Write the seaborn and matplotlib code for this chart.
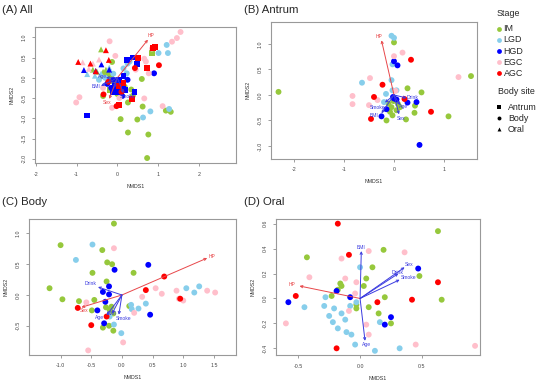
import matplotlib
matplotlib.use("Agg")
import pandas as pd
import matplotlib.pyplot as plt
import seaborn as sns

sns.set_style("white")
plt.rcParams["font.family"] = ["Liberation Sans", "DejaVu Sans"]

# stage colours
STAGES = ["IM", "LGD", "HGD", "EGC", "AGC"]
COLORS = ["#96C83C", "#87CEEB", "#0000FF", "#FFBFCB", "#FF0000"]
SITES = ["Antrum", "Body", "Oral"]
SITE_MARKERS = {"Antrum": "s", "Body": "o", "Oral": "^"}
S, B, O = "Antrum", "Body", "Oral"

# ---- (A) All : (x, y, site) per stage
A_IM = [(-0.40, 0.70, O), (-0.13, 0.39, B), (0.84, 0.61, S), (0.60, -0.03, B), (0.34, -0.29, B),
        (0.38, -0.44, B), (0.26, -0.61, B), (0.62, -0.71, B), (1.19, -0.81, B), (1.31, -0.84, B),
        (0.49, -1.03, B), (0.08, -1.02, B), (0.26, -1.35, B), (0.76, -1.40, B), (0.73, -1.98, B),
        (-0.35, 0.15, O), (-0.30, 0.10, O), (-0.25, 0.12, B), (-0.20, 0.05, B), (-0.15, 0.00, B),
        (-0.40, 0.05, O), (-0.28, 0.20, O), (-0.10, -0.10, B), (-0.05, -0.25, B), (0.05, -0.15, B),
        (-0.18, -0.30, S), (0.10, -0.35, B), (-0.50, 0.15, O), (0.00, -0.40, B), (-0.35, -0.45, B),
        (-0.60, 0.20, O), (-0.22, -0.05, B), (0.18, -0.22, B)]
A_LGD = [(1.21, 0.81, B), (1.01, 0.61, B), (1.24, 0.61, B), (0.81, -0.83, B), (1.27, -0.77, B),
         (0.63, -0.98, B), (-0.74, 0.09, O), (0.23, 0.11, B), (0.15, 0.23, B), (-0.40, 0.10, O),
         (-0.30, 0.00, B), (-0.45, -0.05, B), (-0.20, 0.25, O), (0.25, 0.35, B), (0.30, 0.40, B),
         (-0.55, 0.05, O), (-0.10, 0.10, B), (0.50, 0.45, B)]
A_HGD = [(-0.75, -0.93, S), (-0.82, 0.19, O), (-0.39, 0.33, O), (-0.53, 0.17, O), (-0.20, 0.20, O),
         (0.39, 0.50, S), (0.48, 0.35, S), (0.23, 0.44, S), (0.90, 0.11, B), (0.42, -0.36, S),
         (0.05, -0.05, S), (0.15, -0.15, S), (-0.05, -0.20, S), (0.10, -0.25, S), (-0.15, -0.25, B),
         (0.20, -0.30, S), (0.00, -0.35, S), (-0.10, -0.05, B), (0.15, 0.05, S), (-0.25, -0.15, B),
         (0.12, -0.45, B), (-0.12, -0.35, S), (0.25, -0.05, B)]
A_EGC = [(1.55, 1.13, B), (1.46, 0.98, B), (1.34, 0.89, B), (0.77, 0.11, B), (0.66, 0.47, B),
         (0.70, 0.40, B), (0.66, -0.51, B), (1.11, -0.70, B), (-0.13, -0.74, B), (-1.01, -0.61, B),
         (-0.93, -0.48, B), (-0.19, 0.90, B), (-0.05, 0.54, B), (-0.85, 0.38, O), (-0.70, 0.22, O),
         (-0.45, 0.45, O), (0.85, 0.72, B), (0.05, -0.50, B), (-0.35, -0.25, B), (0.45, 0.20, B),
         (-0.60, 0.35, O)]
A_AGC = [(0.92, 0.75, S), (0.88, 0.74, S), (0.50, 0.48, S), (0.73, 0.24, S), (1.02, 0.31, B),
         (0.43, 0.24, B), (0.35, -0.53, S), (-0.96, 0.39, O), (-0.66, 0.35, O), (-0.28, 0.68, O),
         (-0.21, 0.44, O), (-0.53, 0.16, O), (0.05, -0.67, S), (-0.02, -0.70, B), (-0.34, -0.41, B),
         (-0.22, -0.10, B), (0.05, -0.20, S), (0.15, -0.12, S), (0.10, -0.35, B)]
A_ARROWS = [("HP", 0.75, 0.94, "r", 0.82, 1.04), ("Sex", -0.20, -0.52, "r", -0.24, -0.62),
            ("BMI", -0.40, -0.20, "b", -0.52, -0.22), ("Age", -0.28, 0.00, "b", -0.36, 0.03),
            ("Drink", -0.08, -0.25, "b", -0.08, -0.10), ("Smoke", 0.15, -0.38, "b", 0.24, -0.45)]

# ---- (B) Antrum : (x, y)
B_IM = [(-2.31, 0.06), (0.00, 1.03), (0.27, 0.13), (0.55, 0.05), (0.42, -0.21), (0.41, -0.35),
        (1.09, -0.42), (1.54, 0.37), (-0.15, -0.50), (0.24, -0.48), (-0.11, -0.17), (-0.05, -0.24),
        (0.05, -0.30), (-0.08, -0.33), (0.12, -0.24), (-0.01, -0.12), (0.08, -0.18), (-0.03, -0.40)]
B_LGD = [(-0.05, 1.16), (0.00, 1.12), (-0.03, 0.60), (-0.64, 0.24), (-0.05, 0.29), (-0.16, 0.02),
         (-0.03, 0.09), (0.05, 0.09), (-0.20, -0.14)]
B_HGD = [(0.00, 0.66), (0.07, 0.58), (-0.25, -0.42), (0.45, -0.14), (0.27, -0.15), (0.51, -0.98),
         (0.00, -0.07), (0.05, -0.09), (-0.02, -0.04), (-0.15, -0.28)]
B_EGC = [(0.00, 0.76), (0.17, 0.83), (-0.48, 0.33), (-0.83, -0.02), (-0.83, -0.18), (-0.33, -0.10),
         (-0.50, -0.20), (1.29, 0.35), (0.03, 0.08)]
B_AGC = [(0.34, 0.69), (-0.23, 0.20), (-0.40, -0.04), (-0.46, -0.47), (0.21, -0.08), (0.74, -0.33)]
B_ARROWS = [("HP", -0.25, 1.07, "r", -0.29, 1.14), ("Drink", 0.25, -0.06, "b", 0.37, -0.05),
            ("Smoke", -0.18, -0.15, "b", -0.33, -0.24), ("BMI", -0.25, -0.36, "b", -0.40, -0.41),
            ("Sex", 0.10, -0.38, "b", 0.15, -0.46), ("Age", 0.12, -0.20, "b", 0.19, -0.22)]

# ---- (C) Body
C_IM = [(-0.13, 1.16), (-1.00, 0.81), (-0.32, 0.73), (-0.24, 0.53), (-0.16, 0.50), (-0.48, 0.36),
        (0.19, 0.36), (-0.25, 0.22), (-1.18, 0.11), (-0.97, -0.07), (-0.70, -0.10), (-0.45, -0.08),
        (-0.49, -0.25), (-0.26, -0.20), (0.12, -0.18), (-0.21, -0.50), (-0.31, -0.53), (-0.14, -0.58),
        (-0.20, -0.24), (-0.14, -0.30), (-0.17, -0.19)]
C_LGD = [(-0.48, 0.82), (-0.75, 0.57), (1.05, 0.11), (1.26, 0.14), (1.18, 0.04), (0.39, -0.14),
         (0.27, -0.22), (0.16, -0.23), (0.15, -0.16), (-0.13, -0.48), (-0.01, -0.62), (-0.20, -0.35)]
C_HGD = [(-0.12, 0.41), (0.43, 0.49), (-0.21, 0.14), (-0.31, 0.05), (-0.21, 0.01), (-0.27, -0.11),
         (-0.40, -0.25), (0.46, -0.32), (-0.29, -0.46)]
C_EGC = [(-0.13, 0.76), (0.55, 0.11), (0.65, 0.02), (0.89, 0.07), (1.39, 0.07), (1.52, 0.04),
         (1.00, -0.09), (0.93, -0.06), (-0.58, -0.12), (0.33, -0.03), (0.20, -0.29), (0.02, -0.77),
         (-0.55, -0.90)]
C_AGC = [(0.69, 0.30), (0.39, 0.08), (0.95, -0.06), (-0.72, -0.21), (-0.50, -0.49), (-0.25, -0.35)]
C_ARROWS = [("HP", 1.39, 0.60, "r", 1.47, 0.63), ("Sex", -0.66, -0.20, "r", -0.62, -0.25),
            ("Drink", -0.39, 0.13, "b", -0.51, 0.18), ("Age", -0.25, -0.33, "b", -0.36, -0.36),
            ("Smoke", -0.05, -0.32, "b", 0.03, -0.38), ("BMI", -0.16, -0.30, "b", -0.16, -0.30)]

# ---- (D) Oral
D_IM = [(0.63, 0.54), (-0.43, 0.33), (0.19, 0.39), (0.10, 0.25), (0.05, 0.16), (-0.16, 0.12),
        (-0.15, 0.10), (-0.18, 0.07), (-0.23, 0.02), (0.03, 0.10), (0.48, 0.18), (0.20, 0.01),
        (0.66, -0.01), (-0.03, -0.05), (-0.03, -0.08), (0.07, -0.07), (0.15, -0.12), (0.25, -0.20)]
D_LGD = [(0.00, 0.25), (-0.28, 0.01), (-0.45, -0.07), (-0.29, -0.06), (-0.21, -0.08), (-0.08, -0.06),
         (-0.03, -0.03), (-0.25, -0.14), (-0.15, -0.12), (-0.12, -0.17), (-0.22, -0.19), (-0.18, -0.24),
         (-0.11, -0.27), (-0.07, -0.29), (0.16, -0.19), (-0.04, -0.37), (0.12, -0.42), (0.32, -0.40)]
D_HGD = [(0.47, 0.24), (-0.58, -0.03), (-0.19, 0.06), (-0.08, 0.01), (0.25, -0.15), (0.20, -0.21)]
D_EGC = [(0.07, 0.38), (0.36, 0.37), (-0.15, 0.32), (-0.41, 0.17), (-0.12, 0.16), (-0.03, 0.13),
         (-0.04, 0.04), (-0.09, -0.10), (-0.60, -0.20), (0.05, -0.21), (0.07, -0.29), (0.45, -0.37),
         (0.93, -0.38)]
D_AGC = [(-0.18, 0.60), (-0.09, 0.35), (0.63, 0.13), (-0.52, 0.02), (0.42, -0.01), (0.14, -0.03),
         (-0.19, -0.40)]
D_ARROWS = [("BMI", 0.01, 0.38, "b", 0.01, 0.41), ("Age", 0.04, -0.34, "b", 0.05, -0.37),
            ("HP", -0.49, 0.10, "r", -0.55, 0.11), ("Sex", 0.36, 0.25, "b", 0.40, 0.27),
            ("Drink", 0.31, 0.20, "b", 0.30, 0.21), ("Smoke", 0.32, 0.15, "b", 0.39, 0.17)]

ARROW_COL = {"r": "#E8474A", "b": "#3B3BE0"}


def to_frame(groups, with_site=False):
    rows = []
    for stage, pts in zip(STAGES, groups):
        for p in pts:
            rows.append({"x": p[0], "y": p[1], "stage": stage,
                         "site": p[2] if with_site else "Body"})
    return pd.DataFrame(rows)


def draw_panel(ax, df, arrows, xlim, ylim, xticks, yticks, xfmt, yfmt, styled=False):
    sns.scatterplot(data=df, x="x", y="y", hue="stage", hue_order=STAGES,
                    palette=COLORS, style="site" if styled else None,
                    markers=SITE_MARKERS if styled else True,
                    s=18, linewidth=0, legend=False, ax=ax, zorder=2)
    for name, tx, ty, c, lx, ly in arrows:
        ax.annotate("", xy=(tx, ty), xytext=(0, 0),
                    arrowprops=dict(arrowstyle="->", color=ARROW_COL[c], lw=0.7,
                                    shrinkA=0, shrinkB=0, mutation_scale=4), zorder=3)
        ax.text(lx, ly, name, color=ARROW_COL[c], fontsize=3.6, ha="center", va="center", zorder=4)
    ax.set_xlim(*xlim)
    ax.set_ylim(*ylim)
    ax.set_xticks(xticks)
    ax.set_yticks(yticks)
    ax.set_xticklabels([xfmt.format(v) for v in xticks])
    ax.set_yticklabels([yfmt.format(v) for v in yticks], rotation=90, va="center")
    ax.set_xlabel("NMDS1", fontsize=3.8, labelpad=5, color="#333333")
    ax.set_ylabel("NMDS2", fontsize=3.8, labelpad=5, color="#333333")
    ax.tick_params(axis="both", direction="out", length=2.2, width=0.5, color="#777777",
                   labelsize=3.8, labelcolor="#444444", pad=4, left=True, bottom=True)
    for sp in ax.spines.values():
        sp.set_color("#999999")
        sp.set_linewidth(0.8)


fig = plt.figure(figsize=(5.5, 3.86), dpi=100)

axA = fig.add_axes([35 / 550, 1 - 163.3 / 386, 201 / 550, 136.6 / 386])
axB = fig.add_axes([271 / 550, 1 - 158.7 / 386, 206 / 550, 136.7 / 386])
axC = fig.add_axes([29.3 / 550, 1 - 354.7 / 386, 206.7 / 550, 135.4 / 386])
axD = fig.add_axes([276 / 550, 1 - 355.3 / 386, 204 / 550, 136 / 386])

draw_panel(axA, to_frame([A_IM, A_LGD, A_HGD, A_EGC, A_AGC], True), A_ARROWS,
           (-2.02, 2.91), (-2.11, 1.26), [-2, -1, 0, 1, 2],
           [-2.0, -1.5, -1.0, -0.5, 0.0, 0.5, 1.0], "{:g}", "{:.1f}", styled=True)
draw_panel(axB, to_frame([B_IM, B_LGD, B_HGD, B_EGC, B_AGC]), B_ARROWS,
           (-2.46, 1.66), (-1.25, 1.43), [-2, -1, 0, 1],
           [-1.0, -0.5, 0.0, 0.5, 1.0], "{:g}", "{:.1f}")
draw_panel(axC, to_frame([C_IM, C_LGD, C_HGD, C_EGC, C_AGC]), C_ARROWS,
           (-1.51, 1.86), (-0.97, 1.23), [-1.0, -0.5, 0.0, 0.5, 1.0, 1.5],
           [-0.5, 0.0, 0.5, 1.0], "{:.1f}", "{:.1f}")
draw_panel(axD, to_frame([D_IM, D_LGD, D_HGD, D_EGC, D_AGC]), D_ARROWS,
           (-0.68, 0.97), (-0.456, 0.635), [-0.5, 0.0, 0.5],
           [-0.4, -0.2, 0.0, 0.2, 0.4, 0.6], "{:.1f}", "{:.1f}")

# panel titles
fig.text(2 / 550, 1 - 10 / 386, "(A) All", fontsize=8.2, va="center", ha="left")
fig.text(244 / 550, 1 - 10 / 386, "(B) Antrum", fontsize=8.2, va="center", ha="left")
fig.text(2 / 550, 1 - 202.3 / 386, "(C) Body", fontsize=8.2, va="center", ha="left")
fig.text(244 / 550, 1 - 202.3 / 386, "(D) Oral", fontsize=8.2, va="center", ha="left")

# manual legend on a pixel-coordinate overlay
lax = fig.add_axes([0, 0, 1, 1], zorder=-1)
lax.set_xlim(0, 550)
lax.set_ylim(386, 0)
lax.axis("off")
lax.text(497, 13, "Stage", fontsize=6.4, va="center", ha="left")
stage_y = [28.7, 39.5, 51, 62.3, 73.3]
for st, col, yy in zip(STAGES, COLORS, stage_y):
    lax.scatter([499.3], [yy], s=12, color=col, linewidth=0)
    lax.text(503.5, yy, st, fontsize=6.4, va="center", ha="left")
lax.text(497.5, 91, "Body site", fontsize=6.4, va="center", ha="left")
site_y = [107.3, 118.3, 129.3]
for site, yy in zip(SITES, site_y):
    lax.scatter([499.3], [yy], s=8, color="black", marker=SITE_MARKERS[site], linewidth=0)
    lax.text(508, yy, site, fontsize=6.4, va="center", ha="left")

fig.savefig("out.png", dpi=100)
